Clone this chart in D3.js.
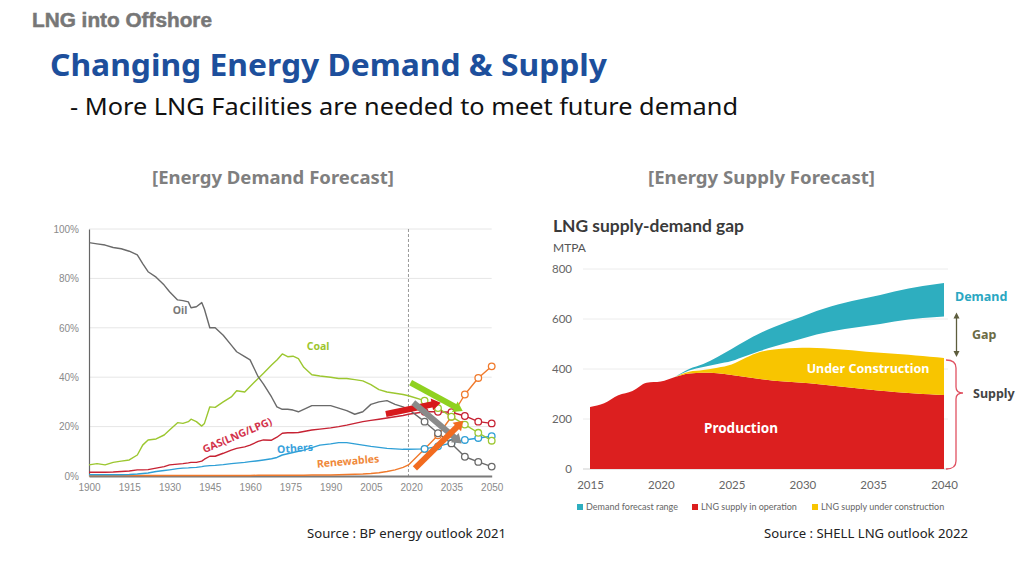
<!DOCTYPE html>
<html><head><meta charset="utf-8">
<script src="https://cdn.jsdelivr.net/npm/d3@7"></script>
<style>body{margin:0;background:#fff}svg{display:block}</style>
</head><body><svg id="c" width="1024" height="576"></svg>
<script>
// ---------- LEFT CHART DATA (BP energy outlook, share of primary energy, %) ----------
const histYears = [1900,1903,1906,1909,1912,1915,1918,1920,1922,1925,1928,1930,1933,1935,1937,1938,1940,1942,1943,1945,1947,1950,1953,1955,1958,1960,1963,1965,1968,1970,1972,1974,1976,1978,1980,1983,1986,1990,1993,1996,1999,2002,2005,2008,2011,2014,2017,2019];
const oilHist    = [94.5,94,93.5,92.5,92,91,89.5,86,82.7,80.5,77.3,74.6,71.3,71,70.5,68.1,68.5,70.2,67.5,60,60,57,53,50.3,48.3,47,40.2,37.2,32,28,27,27,26.7,26,27,28.5,28.5,28.5,27.5,26.5,25,26,29,30,30.5,29,28,27];
const coalHist   = [4.5,5,4.5,5.5,6,6.5,8.5,12.5,14.6,15,16.6,18.6,21.6,21.3,22,23,22,20.2,21.3,28,27.8,30,32,34.5,34,36.2,39.5,41.6,44.9,47,49.4,48.3,48.5,47.5,44,41,40.5,40,39.5,39.5,39,38.5,37,35,34,33.5,33,32.5];
const gasHist    = [1.5,1.5,1.5,1.6,1.8,2,2.5,2.5,2.6,3.2,3.8,4.5,4.8,5,5.3,5.5,5.5,6,6.8,8,8,9.2,10.5,11.2,11.8,12.5,14,14.6,14.5,15.7,17.3,17.5,17.5,17.6,18,18.6,19,19.5,20,20.6,21.3,22,22.5,23,23.5,24,24.5,25];
const othersHist = [0.5,0.5,0.5,0.5,0.5,0.6,0.8,1,1.2,1.8,2.2,2.5,3,3.2,3.3,3.4,3.5,3.8,4,4.2,4.3,4.6,5,5.2,5.5,5.8,6.2,6.5,7,7.5,8.5,9,9.5,10,10.5,11.5,12.5,13,13.5,13.5,13,12.5,12,11.6,11.2,11,10.8,10.8];
const renewHist  = [0.2,0.2,0.2,0.2,0.2,0.2,0.2,0.2,0.2,0.2,0.2,0.2,0.2,0.2,0.2,0.2,0.2,0.2,0.2,0.2,0.2,0.2,0.2,0.2,0.2,0.2,0.3,0.3,0.3,0.3,0.3,0.3,0.3,0.3,0.3,0.4,0.4,0.4,0.5,0.6,0.7,0.8,1.0,1.3,1.8,2.5,3.5,4.5];
const forecastYears = [2025,2030,2035,2040,2045,2050];
const oilFc    = [22,17.3,13.2,7.8,5.7,3.8];
const coalFc   = [30.5,27.5,24,20.8,17.5,14.3];
const gasFc    = [26,26,25.8,24.3,22,21.3];
const othersFc = [11,12,13.4,14.6,15.4,16.1];
const renewFc  = [10.9,16.5,24,33,39.7,44.4];
const forecastStart = 2019;
const leftXTicks = [1900,1915,1930,1945,1960,1975,1990,2005,2020,2035,2050];
const leftYTicks = [0,20,40,60,80,100];
const seriesNames = ["Renewables","Others","GAS(LNG/LPG)","Coal","Oil"];
// trend arrows [year, %] -> [year, %]
const trendArrows = [
  {name:"coal",  from:[2019.8,37.8], to:[2039.2,26.3]},
  {name:"gas",   from:[2010.6,25.1], to:[2031.0,29.7]},
  {name:"oil",   from:[2020.8,29.7], to:[2038.8,13.2]},
  {name:"renew", from:[2021.4,3.1],  to:[2039.4,22.4]}
];

// ---------- RIGHT CHART DATA (Shell LNG outlook, MTPA) ----------
const supplyYears = d3.range(2015,2041);
const production = [248,263,295,312,345,350,368,382,385,383,376,368,360,353,349,345,340,334,328,322,316,311,306,302,299,296];
const gapYears = d3.range(2021,2041);
const underConstruction = [0,7,11,22,42,77,108,125,134,140,144,147,149,150,151,152,153,152,150,148];
const demandLow  = [368,394,408,420,432,452,472,490,506,522,538,550,560,568,576,585,594,601,606,610];
const demandHigh = [368,400,420,448,480,513,543,568,590,610,632,650,665,678,690,703,716,727,736,744];
const rightXTicks = [2015,2020,2025,2030,2035,2040];
const rightYTicks = [0,200,400,600,800];
const legendLabels = ["Demand forecast range","LNG supply in operation","LNG supply under construction"];

// ---------- DRAW ----------
const svg = d3.select("#c");
const sans = "'Noto Sans', 'Open Sans', sans-serif";
const arial = "'Liberation Sans', Arial, sans-serif";

// header
svg.append("text").attr("x",32).attr("y",27).attr("font-family",arial).attr("font-weight",700)
  .attr("font-size",20).attr("fill","#777").attr("stroke","#777").attr("stroke-width",0.5)
  .attr("textLength",180).attr("lengthAdjust","spacingAndGlyphs").text("LNG into Offshore");
svg.append("text").attr("x",50).attr("y",76).attr("font-family",sans).attr("font-weight","bold")
  .attr("font-size",31).attr("fill","#1d4f9c").attr("textLength",557).attr("lengthAdjust","spacingAndGlyphs").text("Changing Energy Demand & Supply");
svg.append("text").attr("x",70).attr("y",115).attr("font-family",sans)
  .attr("font-size",23).attr("fill","#111").attr("textLength",668).attr("lengthAdjust","spacingAndGlyphs").text("- More LNG Facilities are needed to meet future demand");
svg.append("text").attr("x",152).attr("y",184).attr("font-family",sans).attr("font-weight","bold")
  .attr("font-size",17).attr("fill","#7f7f7f").attr("textLength",242).attr("lengthAdjust","spacingAndGlyphs").text("[Energy Demand Forecast]");
svg.append("text").attr("x",648).attr("y",184).attr("font-family",sans).attr("font-weight","bold")
  .attr("font-size",17).attr("fill","#7f7f7f").attr("textLength",227).attr("lengthAdjust","spacingAndGlyphs").text("[Energy Supply Forecast]");
svg.append("text").attr("x",307).attr("y",538).attr("font-family",sans)
  .attr("font-size",12).attr("fill","#222").attr("textLength",199).attr("lengthAdjust","spacingAndGlyphs").text("Source : BP energy outlook 2021");
svg.append("text").attr("x",764).attr("y",538).attr("font-family",sans)
  .attr("font-size",12).attr("fill","#222").attr("textLength",204).attr("lengthAdjust","spacingAndGlyphs").text("Source : SHELL LNG outlook 2022");

// ===== LEFT CHART =====
const xL = d3.scaleLinear().domain([1900,2050]).range([89,491.7]);
const yL = d3.scaleLinear().domain([0,100]).range([476,229]);
const gL = svg.append("g");

gL.selectAll("line.grid").data(leftYTicks.filter(d=>d>0)).join("line")
  .attr("x1",xL(1900)).attr("x2",xL(2050)).attr("y1",d=>yL(d)).attr("y2",d=>yL(d))
  .attr("stroke","#e6e6e6").attr("stroke-width",1);

gL.append("line").attr("x1",xL(forecastStart)).attr("x2",xL(forecastStart))
  .attr("y1",yL(100)).attr("y2",yL(0)).attr("stroke","#9a9a9a").attr("stroke-dasharray","3,2").attr("stroke-width",1);

const axL = gL.append("g").attr("transform",`translate(${xL(1900)},0)`)
  .call(d3.axisLeft(yL).tickValues(leftYTicks).tickFormat(d=>d+"%").tickSize(0).tickSizeOuter(0).tickPadding(10));
axL.select(".domain").attr("stroke","#666").attr("stroke-width",1.2);
axL.selectAll("text").attr("font-family",arial).attr("font-size",10).attr("fill","#8a8a8a");

const axB = gL.append("g").attr("transform",`translate(0,${yL(0)})`)
  .call(d3.axisBottom(xL).tickValues(leftXTicks).tickFormat(d3.format("d")).tickSize(0).tickSizeOuter(0).tickPadding(8));
axB.select(".domain").attr("stroke","#7a7a7a").attr("stroke-width",2.2);
axB.selectAll("text").attr("font-family",arial).attr("font-size",10).attr("fill","#8a8a8a");

const series = [
  {name:seriesNames[0], hist:renewHist,  fc:renewFc,  color:"#f07a2c"},
  {name:seriesNames[1], hist:othersHist, fc:othersFc, color:"#2e9fd6"},
  {name:seriesNames[2], hist:gasHist,    fc:gasFc,    color:"#c62233"},
  {name:seriesNames[3], hist:coalHist,   fc:coalFc,   color:"#9cc730"},
  {name:seriesNames[4], hist:oilHist,    fc:oilFc,    color:"#6a6a6a"}
];
const lineL = d3.line().x(d=>xL(d[0])).y(d=>yL(d[1]));
series.forEach(s=>{
  const pts = histYears.map((y,i)=>[y,s.hist[i]]).concat(forecastYears.map((y,i)=>[y,s.fc[i]]));
  gL.append("path").attr("d",lineL(pts)).attr("fill","none").attr("stroke",s.color).attr("stroke-width",1.4).attr("stroke-linejoin","round");
});
series.forEach(s=>{
  gL.selectAll(null).data(forecastYears.map((y,i)=>[y,s.fc[i]])).join("circle")
    .attr("cx",d=>xL(d[0])).attr("cy",d=>yL(d[1])).attr("r",3.3)
    .attr("fill","#fff").attr("stroke",s.color).attr("stroke-width",1.3);
});

// trend arrows
const arrowColors = {coal:"#8fd11f", gas:"#d7191c", oil:"#8a8a8a", renew:"#f26b1f"};
trendArrows.forEach(a=>{
  const x0=xL(a.from[0]), y0=yL(a.from[1]), x1=xL(a.to[0]), y1=yL(a.to[1]);
  const dx=x1-x0, dy=y1-y0, L=Math.hypot(dx,dy), ux=dx/L, uy=dy/L;
  const hl=9, hw=6;
  const bx=x1-ux*hl, by=y1-uy*hl;
  gL.append("line").attr("x1",x0).attr("y1",y0).attr("x2",bx+ux*1).attr("y2",by+uy*1)
    .attr("stroke",arrowColors[a.name]).attr("stroke-width",6);
  gL.append("polygon").attr("points",[[x1,y1],[bx-uy*hw,by+ux*hw],[bx+uy*hw,by-ux*hw]].map(p=>p.join(",")).join(" "))
    .attr("fill",arrowColors[a.name]);
});

// series labels
const lbl = (t,x,y,c,rot,size)=>gL.append("text").attr("transform",`translate(${x},${y}) rotate(${rot})`)
  .attr("text-anchor","middle").attr("dominant-baseline","central").attr("font-family",sans).attr("font-weight","bold")
  .attr("font-size",size).attr("fill",c).text(t);
lbl("Oil",180,310,"#7a7a7a",0,10.5);
lbl("Coal",318,346,"#9dc62d",0,10.5);
lbl(seriesNames[2],237,435,"#d3344c",-23,10.5);
lbl("Others",295,448,"#3aa2dc",-4,10.5);
lbl("Renewables",348,461,"#f0883a",-5,10.5);

// ===== RIGHT CHART =====
const xR = d3.scaleLinear().domain([2015,2040]).range([590,944]);
const yR = d3.scaleLinear().domain([0,800]).range([469,269]);
const gR = svg.append("g");

gR.append("text").attr("x",553).attr("y",232).attr("font-family","Lato, 'Open Sans', sans-serif").attr("font-weight","bold")
  .attr("font-size",17.5).attr("fill","#3a3a3a").attr("textLength",191).attr("lengthAdjust","spacingAndGlyphs").text("LNG supply-demand gap");
gR.append("text").attr("x",553).attr("y",252).attr("font-family","Lato, 'Open Sans', sans-serif")
  .attr("font-size",12).attr("fill","#555").text("MTPA");

gR.selectAll("line.g").data(rightYTicks).join("line")
  .attr("x1",583).attr("x2",948).attr("y1",d=>yR(d)).attr("y2",d=>yR(d))
  .attr("stroke",d=>d===0?"#cfcfcf":"#ececec").attr("stroke-width",1);

const ayR = gR.append("g").attr("transform","translate(583,0)")
  .call(d3.axisLeft(yR).tickValues(rightYTicks).tickSize(0).tickPadding(11));
ayR.select(".domain").remove();
ayR.selectAll("text").attr("font-family","Lato, 'Open Sans', sans-serif").attr("font-size",11.5).attr("fill","#666");
const axR = gR.append("g").attr("transform",`translate(0,${yR(0)})`)
  .call(d3.axisBottom(xR).tickValues(rightXTicks).tickFormat(d3.format("d")).tickSize(0).tickPadding(12));
axR.select(".domain").remove();
axR.selectAll("text").attr("font-family","Lato, 'Open Sans', sans-serif").attr("font-size",11.5).attr("fill","#666");

const curve = d3.curveMonotoneX;
const prodArea = d3.area().x((d,i)=>xR(supplyYears[i])).y0(yR(0)).y1(d=>yR(d)).curve(curve);
gR.append("path").attr("d",prodArea(production)).attr("fill","#dc1f1f");

const ucData = gapYears.map((y,i)=>({y, lo:production[supplyYears.indexOf(y)], hi:production[supplyYears.indexOf(y)]+underConstruction[i]}));
const ucArea = d3.area().x(d=>xR(d.y)).y0(d=>yR(d.lo)).y1(d=>yR(d.hi)).curve(curve);
gR.append("path").attr("d",ucArea(ucData)).attr("fill","#f8c500");

const dmData = gapYears.map((y,i)=>({y, lo:demandLow[i], hi:demandHigh[i]}));
gR.append("path").attr("d",ucArea(dmData)).attr("fill","#2eaebf");

// legend
const legColors = ["#2eaebf","#dc1f1f","#f8c500"];
const legX = [577,692,812];
legendLabels.forEach((t,i)=>{
  gR.append("rect").attr("x",legX[i]).attr("y",504).attr("width",6).attr("height",6).attr("fill",legColors[i]);
  gR.append("text").attr("x",legX[i]+9).attr("y",510).attr("font-family","Lato, 'Open Sans', sans-serif")
    .attr("font-size",9).attr("fill","#666").text(t);
});

// in-chart labels
gR.append("text").attr("x",741).attr("y",428).attr("text-anchor","middle").attr("dominant-baseline","central")
  .attr("font-family",sans).attr("font-weight","bold").attr("font-size",13.5).attr("fill","#fff").text("Production");
gR.append("text").attr("x",868).attr("y",368).attr("text-anchor","middle").attr("dominant-baseline","central")
  .attr("font-family",sans).attr("font-weight","bold").attr("font-size",12.5).attr("fill","#fff").text("Under Construction");

// side annotations
const endDemandLow = demandLow[demandLow.length-1];
const endSupply = production[production.length-1]+underConstruction[underConstruction.length-1];
gR.append("text").attr("x",955).attr("y",296).attr("dominant-baseline","central")
  .attr("font-family",sans).attr("font-weight","bold").attr("font-size",12.5).attr("fill","#2aa7c2").text("Demand");
const gx=956.5, gy0=yR(endDemandLow)-4, gy1=yR(endSupply)-1;
gR.append("line").attr("x1",gx).attr("x2",gx).attr("y1",gy0+4).attr("y2",gy1-4).attr("stroke","#5d5d3d").attr("stroke-width",1.3);
gR.append("polygon").attr("points",`${gx},${gy0} ${gx-3},${gy0+6} ${gx+3},${gy0+6}`).attr("fill","#5d5d3d");
gR.append("polygon").attr("points",`${gx},${gy1} ${gx-3},${gy1-6} ${gx+3},${gy1-6}`).attr("fill","#5d5d3d");
gR.append("text").attr("x",972).attr("y",334).attr("dominant-baseline","central")
  .attr("font-family",sans).attr("font-weight","bold").attr("font-size",12.5).attr("fill","#6b6b45").text("Gap");
const by0=yR(endSupply)+2, by1=yR(0), tip=393;
gR.append("path").attr("d",`M946,${by0} Q956,${by0} 956,${by0+8} L956,${tip-6} Q956,${tip} 963,${tip} Q956,${tip} 956,${tip+6} L956,${by1-8} Q956,${by1} 946,${by1}`)
  .attr("fill","none").attr("stroke","#e05262").attr("stroke-width",1.3);
gR.append("text").attr("x",973).attr("y",393).attr("dominant-baseline","central")
  .attr("font-family",sans).attr("font-weight","bold").attr("font-size",12.5).attr("fill","#444").text("Supply");
</script></body></html>
